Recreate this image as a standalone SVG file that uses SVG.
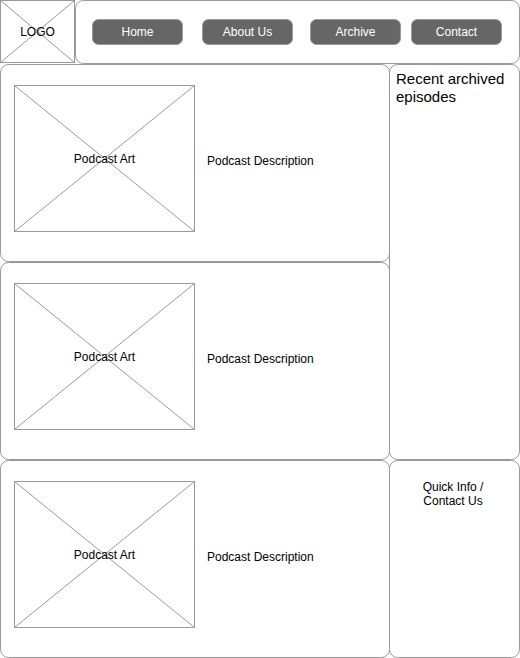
<svg xmlns="http://www.w3.org/2000/svg" width="520" height="658" viewBox="0 0 520 658">
<style>
.box{fill:#fff;stroke:#999;stroke-width:1}
.x{stroke:#999;stroke-width:1;fill:none}
.btn{fill:#666;stroke:#999;stroke-width:1}
.bt{font-family:"Liberation Sans",Arial,sans-serif;font-size:12px;fill:#fff;text-anchor:middle}
.t{font-family:"Liberation Sans",Arial,sans-serif;font-size:12px;fill:#000}
.tc{text-anchor:middle}
.h{font-family:"Liberation Sans",Arial,sans-serif;font-size:15px;fill:#000}
</style>
<rect width="520" height="658" fill="#fff"/>
<g id="logo">
<rect class="box" x="0.5" y="0.5" width="74" height="62"/>
<path class="x" d="M0.5 0.5L74.5 62.5M74.5 0.5L0.5 62.5"/>
<text class="t tc" x="37.5" y="36">LOGO</text>
</g>
<g id="nav">
<rect class="box" x="75.5" y="0.5" width="444" height="63" rx="8"/>
<rect class="btn" x="92.5" y="19.5" width="90" height="25" rx="6"/>
<text class="bt" x="137.5" y="36">Home</text>
<rect class="btn" x="202.5" y="19.5" width="90" height="25" rx="6"/>
<text class="bt" x="247.5" y="36">About Us</text>
<rect class="btn" x="310.5" y="19.5" width="90" height="25" rx="6"/>
<text class="bt" x="355.5" y="36">Archive</text>
<rect class="btn" x="411.5" y="19.5" width="90" height="25" rx="6"/>
<text class="bt" x="456.5" y="36">Contact</text>
</g>
<g id="episode1">
<rect class="box" x="0.5" y="64.5" width="389" height="197" rx="8"/>
<rect class="box" x="14.5" y="85.5" width="180" height="146"/>
<path class="x" d="M14.5 85.5L194.5 231.5M194.5 85.5L14.5 231.5"/>
<text class="t tc" x="104.5" y="163">Podcast Art</text>
<text class="t" x="207" y="165">Podcast Description</text>
</g>
<g id="episode2">
<rect class="box" x="0.5" y="262.5" width="389" height="197" rx="8"/>
<rect class="box" x="14.5" y="283.5" width="180" height="146"/>
<path class="x" d="M14.5 283.5L194.5 429.5M194.5 283.5L14.5 429.5"/>
<text class="t tc" x="104.5" y="361">Podcast Art</text>
<text class="t" x="207" y="363">Podcast Description</text>
</g>
<g id="episode3">
<rect class="box" x="0.5" y="460.5" width="389" height="197" rx="8"/>
<rect class="box" x="14.5" y="481.5" width="180" height="146"/>
<path class="x" d="M14.5 481.5L194.5 627.5M194.5 481.5L14.5 627.5"/>
<text class="t tc" x="104.5" y="559">Podcast Art</text>
<text class="t" x="207" y="561">Podcast Description</text>
</g>
<g id="recent">
<rect class="box" x="389.5" y="64.5" width="130" height="395" rx="8"/>
<text class="h" x="396" y="84">Recent archived</text>
<text class="h" x="396" y="102">episodes</text>
</g>
<g id="quickinfo">
<rect class="box" x="389.5" y="460.5" width="130" height="197" rx="8"/>
<text class="t tc" x="453" y="491">Quick Info /</text>
<text class="t tc" x="453" y="505">Contact Us</text>
</g>
<g id="connectors"></g>
</svg>
